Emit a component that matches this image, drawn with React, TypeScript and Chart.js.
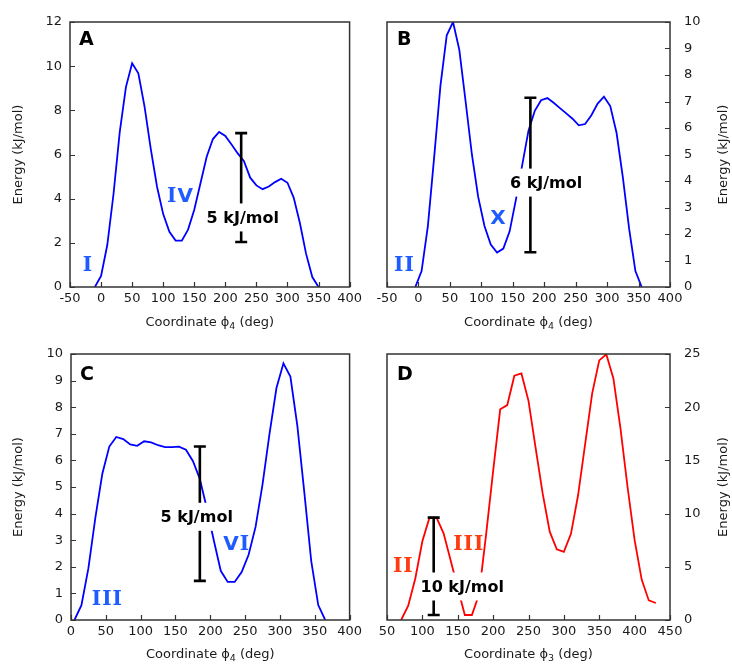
import React, { useEffect, useRef } from "react";
import { Chart, registerables } from "chart.js";

Chart.register(...registerables);

const FONT = "'DejaVu Sans', Verdana, sans-serif";
const SERIF = "'DejaVu Serif', serif";
const TEXT = "#1a1a1a";

// ---------- Panel A ----------
const phiA = [-10, 0, 10, 20, 30, 40, 50, 60, 70, 80, 90, 100, 110, 120, 130, 140, 150, 160, 170, 180, 190, 200, 210, 220, 230, 240, 250, 260, 270, 280, 290, 300, 310, 320, 330, 340, 350];
const energyA = [0, 0.5, 1.9, 4.2, 7.0, 9.05, 10.13, 9.68, 8.17, 6.25, 4.55, 3.3, 2.5, 2.1, 2.1, 2.6, 3.5, 4.7, 5.9, 6.7, 7.02, 6.84, 6.45, 6.05, 5.7, 4.95, 4.6, 4.43, 4.55, 4.75, 4.9, 4.72, 4.05, 2.9, 1.5, 0.45, 0];

// ---------- Panel B ----------
const phiB = [-5, 5, 15, 25, 35, 45, 55, 65, 75, 85, 95, 105, 115, 125, 135, 145, 155, 165, 175, 185, 195, 205, 215, 225, 235, 245, 255, 265, 275, 285, 295, 305, 315, 325, 335, 345, 355];
const energyB = [0, 0.6, 2.3, 4.9, 7.6, 9.5, 10.0, 8.95, 7.0, 5.0, 3.4, 2.3, 1.6, 1.3, 1.45, 2.1, 3.3, 4.6, 5.9, 6.65, 7.05, 7.13, 6.95, 6.75, 6.55, 6.35, 6.1, 6.15, 6.48, 6.92, 7.18, 6.83, 5.82, 4.15, 2.2, 0.6, 0];

// ---------- Panel C ----------
const phiC = [5, 15, 25, 35, 45, 55, 65, 75, 85, 95, 105, 115, 125, 135, 145, 155, 165, 175, 185, 195, 205, 215, 225, 235, 245, 255, 265, 275, 285, 295, 305, 315, 325, 335, 345, 355, 365];
const energyC = [0, 0.56, 1.95, 3.85, 5.5, 6.52, 6.88, 6.8, 6.6, 6.55, 6.72, 6.68, 6.57, 6.5, 6.5, 6.52, 6.4, 5.98, 5.3, 4.2, 3.0, 1.85, 1.43, 1.43, 1.8, 2.45, 3.5, 5.1, 7.0, 8.72, 9.65, 9.15, 7.3, 4.8, 2.2, 0.56, 0];

// ---------- Panel D ----------
const phiD = [70, 80, 90, 100, 110, 120, 130, 140, 150, 160, 170, 180, 190, 200, 210, 220, 230, 240, 250, 260, 270, 280, 290, 300, 310, 320, 330, 340, 350, 360, 370, 380, 390, 400, 410, 420, 430];
const energyD = [0, 1.35, 3.9, 7.4, 9.62, 9.62, 8.15, 5.6, 3.0, 0.47, 0.47, 2.4, 8.0, 14.0, 19.8, 20.2, 22.96, 23.17, 20.6, 16.2, 11.9, 8.3, 6.65, 6.4, 8.1, 11.7, 16.5, 21.3, 24.4, 24.97, 22.7, 18.0, 12.5, 7.5, 3.8, 1.84, 1.6];

// Axis ranges / tick steps
const xRangeA = [-50, 400];
const xRangeB = [-50, 400];
const xRangeC = [0, 400];
const xRangeD = [50, 450];
const yMaxA = 12, yStepA = 2;
const yMaxB = 10, yStepB = 1;
const yMaxC = 10, yStepC = 1;
const yMaxD = 25, yStepD = 5;

// Annotations (data coordinates)
const numeralsA = [{ t: "I", x: -22, y: 1.0 }, { t: "IV", x: 127, y: 4.14 }];
const numeralsB = [{ t: "II", x: -23, y: 0.83 }, { t: "X", x: 126.5, y: 2.62 }];
const numeralsC = [{ t: "III", x: 51.5, y: 0.81 }, { t: "VI", x: 237, y: 2.88 }];
const numeralsD = [{ t: "II", x: 72.4, y: 5.09 }, { t: "III", x: 164.8, y: 7.12 }];

const barA = { x: 225.5, y0: 2.04, y1: 6.97, label: "5 kJ/mol", lx: 228, ly: 3.15 };
const barB = { x: 178, y0: 1.31, y1: 7.14, label: "6 kJ/mol", lx: 203, ly: 3.94 };
const barC = { x: 185, y0: 1.47, y1: 6.52, label: "5 kJ/mol", lx: 180.5, ly: 3.88 };
const barD = { x: 116, y0: 0.47, y1: 9.62, label: "10 kJ/mol", lx: 156.3, ly: 3.15 };

type Num = { t: string; x: number; y: number };
type Bar = { x: number; y0: number; y1: number; label: string; lx: number; ly: number };
type PanelSpec = {
  letter: string;
  xs: number[];
  ys: number[];
  color: string;
  numColor: string;
  xRange: number[];
  yMax: number;
  yStep: number;
  side: "left" | "right";
  sub: string;
  numerals: Num[];
  bar: Bar;
  pad: { left: number; right: number; top: number };
  yAxisWidth: number;
  xAxisHeight: number;
  letterDy: number;
  letterDx: number;
  yTitleX: number;
};

const W = 366;
const H = 332;

function charFont(c: string) {
  return c === "I" ? `bold 20px ${SERIF}` : `bold 20px ${FONT}`;
}

function drawNumeral(ctx: CanvasRenderingContext2D, text: string, cx: number, cy: number) {
  const chars = text.split("");
  const gap = 1;
  const widths = chars.map((c) => {
    ctx.font = charFont(c);
    return ctx.measureText(c).width;
  });
  const total = widths.reduce((a, b) => a + b, 0) + gap * (chars.length - 1);
  let x = cx - total / 2;
  ctx.textAlign = "left";
  ctx.textBaseline = "middle";
  chars.forEach((c, i) => {
    ctx.font = charFont(c);
    ctx.fillText(c, x, cy);
    x += widths[i] + gap;
  });
}

const decorPlugin = {
  id: "decor",
  afterDatasetsDraw(chart: any, _args: any, o: any) {
    const { ctx, chartArea: ca } = chart;
    const xs = chart.scales.x;
    const ys = chart.scales.y;
    ctx.save();
    // frame
    ctx.strokeStyle = "#333";
    ctx.lineWidth = 1.5;
    ctx.strokeRect(ca.left, ca.top, ca.right - ca.left, ca.bottom - ca.top);
    // inward ticks
    ctx.lineWidth = 1.2;
    ctx.beginPath();
    xs.ticks.forEach((t: any) => {
      const px = Math.round(xs.getPixelForValue(t.value)) + 0.5;
      ctx.moveTo(px, ca.bottom);
      ctx.lineTo(px, ca.bottom - 5);
    });
    ys.ticks.forEach((t: any) => {
      const py = Math.round(ys.getPixelForValue(t.value)) + 0.5;
      if (o.side === "left") {
        ctx.moveTo(ca.left, py);
        ctx.lineTo(ca.left + 5, py);
      } else {
        ctx.moveTo(ca.right, py);
        ctx.lineTo(ca.right - 5, py);
      }
    });
    ctx.stroke();

    // energy bar
    const b: Bar = o.bar;
    const bx = xs.getPixelForValue(b.x);
    const bt = ys.getPixelForValue(b.y1);
    const bb = ys.getPixelForValue(b.y0);
    ctx.strokeStyle = "#000";
    ctx.lineWidth = 2.6;
    ctx.beginPath();
    ctx.moveTo(bx, bt);
    ctx.lineTo(bx, bb);
    ctx.moveTo(bx - 6, bt);
    ctx.lineTo(bx + 6, bt);
    ctx.moveTo(bx - 6, bb);
    ctx.lineTo(bx + 6, bb);
    ctx.stroke();
    // label with white box
    ctx.font = `bold 16px ${FONT}`;
    const lx = xs.getPixelForValue(b.lx);
    const ly = ys.getPixelForValue(b.ly);
    const tw = ctx.measureText(b.label).width;
    ctx.fillStyle = "#fff";
    ctx.fillRect(lx - tw / 2 - 3, ly - 14, tw + 6, 28);
    ctx.fillStyle = "#000";
    ctx.textAlign = "center";
    ctx.textBaseline = "middle";
    ctx.fillText(b.label, lx, ly + 1);

    // roman numerals
    ctx.fillStyle = o.numColor;
    o.numerals.forEach((n: Num) => {
      drawNumeral(ctx, n.t, xs.getPixelForValue(n.x), ys.getPixelForValue(n.y) + 1);
    });

    // panel letter
    ctx.font = `bold 19px ${FONT}`;
    ctx.fillStyle = "#000";
    ctx.textAlign = "left";
    ctx.textBaseline = "alphabetic";
    ctx.fillText(o.letter, ca.left + o.letterDx, ca.top + o.letterDy);
    ctx.restore();
  },
  afterDraw(chart: any, _args: any, o: any) {
    const { ctx, chartArea: ca } = chart;
    ctx.save();
    ctx.fillStyle = TEXT;
    ctx.textBaseline = "middle";
    // x title with subscript
    const big = `13px ${FONT}`;
    const small = `9.5px ${FONT}`;
    const p1 = "Coordinate \u03D5";
    const p3 = " (deg)";
    ctx.font = big;
    const w1 = ctx.measureText(p1).width;
    const w3 = ctx.measureText(p3).width;
    ctx.font = small;
    const w2 = ctx.measureText(o.sub).width;
    const total = w1 + w2 + w3;
    const cx = (ca.left + ca.right) / 2;
    const x0 = cx - total / 2;
    const ty = 323;
    ctx.textAlign = "left";
    ctx.font = big;
    ctx.fillText(p1, x0, ty);
    ctx.font = small;
    ctx.fillText(o.sub, x0 + w1, ty + 4);
    ctx.font = big;
    ctx.fillText(p3, x0 + w1 + w2, ty);
    // y title
    ctx.translate(o.yTitleX, (ca.top + ca.bottom) / 2);
    ctx.rotate(-Math.PI / 2);
    ctx.textAlign = "center";
    ctx.font = big;
    ctx.fillText("Energy (kJ/mol)", 0, 0);
    ctx.restore();
  },
};

function Panel({ spec, left, top }: { spec: PanelSpec; left: number; top: number }) {
  const ref = useRef<HTMLCanvasElement>(null);
  useEffect(() => {
    if (!ref.current) return;
    const data = spec.xs.map((x, i) => ({ x, y: spec.ys[i] }));
    const chart = new Chart(ref.current, {
      type: "line",
      data: {
        datasets: [
          {
            data,
            borderColor: spec.color,
            borderWidth: 1.8,
            pointRadius: 0,
            tension: 0,
            fill: false,
          },
        ],
      },
      options: {
        animation: false,
        responsive: false,
        layout: {
          autoPadding: false,
          padding: { left: spec.pad.left, right: spec.pad.right, top: spec.pad.top, bottom: 0 },
        } as any,
        plugins: {
          legend: { display: false },
          tooltip: { enabled: false },
          decor: {
            side: spec.side,
            bar: spec.bar,
            numerals: spec.numerals,
            numColor: spec.numColor,
            letter: spec.letter,
            letterDx: spec.letterDx,
            letterDy: spec.letterDy,
            sub: spec.sub,
            yTitleX: spec.yTitleX,
          },
        } as any,
        scales: {
          x: {
            type: "linear",
            min: spec.xRange[0],
            max: spec.xRange[1],
            grid: { display: false, drawTicks: false },
            border: { display: false },
            ticks: {
              stepSize: 50,
              autoSkip: false,
              maxRotation: 0,
              padding: 4,
              color: TEXT,
              font: { family: FONT, size: 13 },
            },
            afterFit: (s: any) => {
              s.height = spec.xAxisHeight;
            },
          },
          y: {
            type: "linear",
            position: spec.side,
            min: 0,
            max: spec.yMax,
            grid: { display: false, drawTicks: false },
            border: { display: false },
            ticks: {
              stepSize: spec.yStep,
              autoSkip: false,
              padding: spec.side === "left" ? 8 : 14,
              color: TEXT,
              font: { family: FONT, size: 13 },
            },
            afterFit: (s: any) => {
              s.width = spec.yAxisWidth;
            },
          },
        },
      },
      plugins: [decorPlugin as any],
    });
    return () => chart.destroy();
  }, [spec]);
  return (
    <div style={{ position: "absolute", left, top, width: W, height: H }}>
      <canvas ref={ref} width={W} height={H} style={{ display: "block" }} />
    </div>
  );
}

const BLUE = "#0000ff";
const BLUE_NUM = "#1f5cff";
const RED = "#ff0000";
const RED_NUM = "#ff3b12";

const specA: PanelSpec = {
  letter: "A", xs: phiA, ys: energyA, color: BLUE, numColor: BLUE_NUM, xRange: xRangeA,
  yMax: yMaxA, yStep: yStepA, side: "left", sub: "4", numerals: numeralsA, bar: barA,
  pad: { left: 0, right: W - 354, top: 22 }, yAxisWidth: 70, xAxisHeight: H - 287,
  letterDx: 9, letterDy: 23, yTitleX: 19,
};
const specB: PanelSpec = {
  letter: "B", xs: phiB, ys: energyB, color: BLUE, numColor: BLUE_NUM, xRange: xRangeB,
  yMax: yMaxB, yStep: yStepB, side: "right", sub: "4", numerals: numeralsB, bar: barB,
  pad: { left: 21, right: 0, top: 22 }, yAxisWidth: W - 304, xAxisHeight: H - 287,
  letterDx: 10, letterDy: 23, yTitleX: 723.5 - W,
};
const specC: PanelSpec = {
  letter: "C", xs: phiC, ys: energyC, color: BLUE, numColor: BLUE_NUM, xRange: xRangeC,
  yMax: yMaxC, yStep: yStepC, side: "left", sub: "4", numerals: numeralsC, bar: barC,
  pad: { left: 0, right: W - 354, top: 22 }, yAxisWidth: 71, xAxisHeight: H - 288,
  letterDx: 9, letterDy: 26, yTitleX: 19,
};
const specD: PanelSpec = {
  letter: "D", xs: phiD, ys: energyD, color: RED, numColor: RED_NUM, xRange: xRangeD,
  yMax: yMaxD, yStep: yStepD, side: "right", sub: "3", numerals: numeralsD, bar: barD,
  pad: { left: 21, right: 0, top: 22 }, yAxisWidth: W - 304, xAxisHeight: H - 288,
  letterDx: 10, letterDy: 26, yTitleX: 723.5 - W,
};

export default function App() {
  return (
    <div style={{ position: "absolute", left: 0, top: 0, width: 732, height: 664, background: "#fff" }}>
      <Panel spec={specA} left={0} top={0} />
      <Panel spec={specB} left={W} top={0} />
      <Panel spec={specC} left={0} top={H} />
      <Panel spec={specD} left={W} top={H} />
    </div>
  );
}
